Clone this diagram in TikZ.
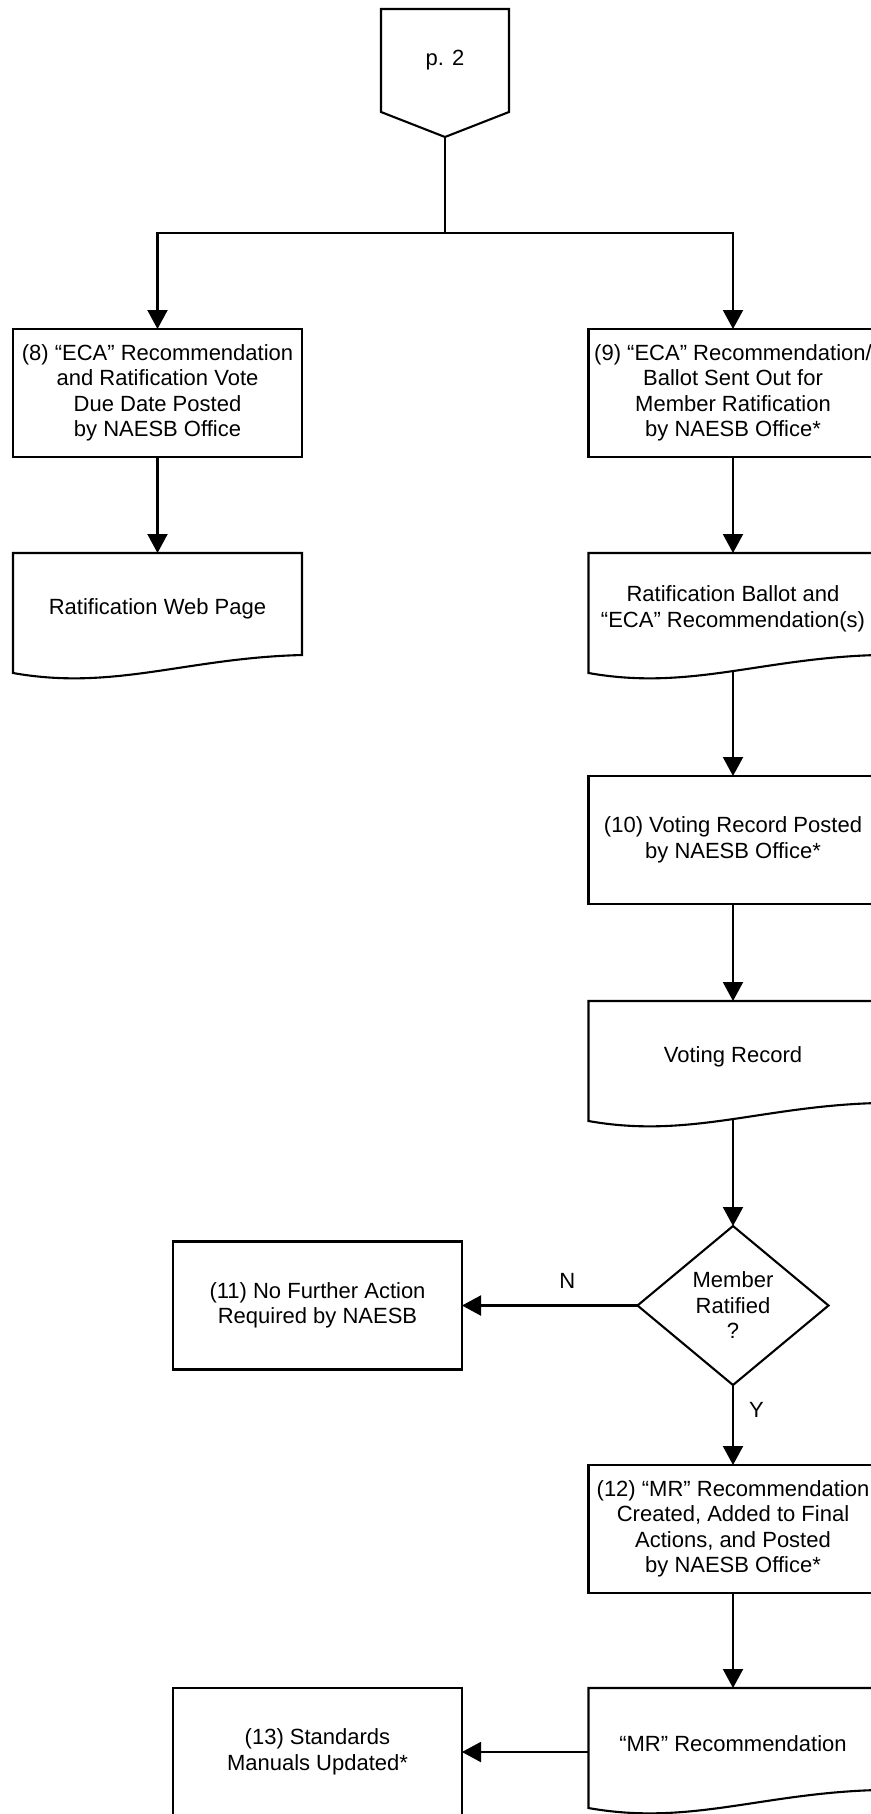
\documentclass[tikz,border=0pt]{standalone}
\usepackage{fontspec}
\setmainfont{Liberation Sans}
\usepackage{tikz}
\usetikzlibrary{shapes.geometric}
\usetikzlibrary{arrows.meta}
\usetikzlibrary{positioning}
\newcommand{\pageframe}[1]{\draw (#1.north west) -- (#1.north east) -- (#1.south east) -- ([yshift=-25pt]#1.south) -- (#1.south west) -- cycle;}
\newcommand{\docframe}[1]{\draw (#1.north west) -- ([yshift=-8pt]#1.south west) .. controls ([xshift=101pt,yshift=-26pt]#1.south west) and ([xshift=173pt,yshift=7pt]#1.south west) .. ([yshift=10pt]#1.south east) -- (#1.north east) -- cycle;}

\begin{document}
\begin{tikzpicture}[>={Triangle[length=19pt,width=20pt]}, line width=2.1pt,
  font=\fontsize{22}{25.5}\selectfont,
  stepbox/.style={rectangle, draw, minimum width=289pt, minimum height=128pt, align=center, inner sep=2pt, outer sep=0pt},
  docbox/.style={rectangle, minimum width=289pt, minimum height=112pt, align=center, inner sep=2pt, outer sep=0pt},
  decision/.style={diamond, draw, minimum width=191pt, minimum height=159pt, aspect=1.2, align=center, inner sep=1pt, outer sep=0pt},
  flag/.style={inner sep=2pt}]
  \useasboundingbox (0,0) rectangle (870pt,-1814pt);
  \node (p2) [rectangle, minimum width=128pt, minimum height=103pt, outer sep=0pt] at (445pt,-60.5pt) {p. 2};
  \node (e8) [stepbox] at (157.5pt,-393pt) {(8) “ECA” Recommendation\\and Ratification Vote\\Due Date Posted\\by NAESB Office};
  \node (e9) [stepbox, right=286.5pt of e8] {(9) “ECA” Recommendation/\\Ballot Sent Out for\\Member Ratification\\by NAESB Office*};
  \node (web) [docbox, below=96pt of e8] {Ratification Web Page};
  \node (ballot) [docbox, below=96pt of e9] {Ratification Ballot and\\“ECA” Recommendation(s)};
  \node (e10) [stepbox, below=111pt of ballot] {(10) Voting Record Posted\\by NAESB Office*};
  \node (record) [docbox, below=97pt of e10] {Voting Record};
  \node (ratified) [decision, below=113pt of record] {Member\\Ratified\\?};
  \node (e11) [stepbox, left=175.5pt of ratified] {(11) No Further Action\\Required by NAESB};
  \node (e12) [stepbox, below=80pt of ratified] {(12) “MR” Recommendation\\Created, Added to Final\\Actions, and Posted\\by NAESB Office*};
  \node (mr) [docbox, below=95pt of e12] {“MR” Recommendation};
  \node (e13) [stepbox, anchor=north east] at ([xshift=-126.5pt]mr.north west) {(13) Standards\\Manuals Updated*};
  \pageframe{p2}
  \docframe{web}
  \docframe{ballot}
  \docframe{record}
  \docframe{mr}
  \coordinate (p2tip) at ([yshift=-25pt]p2.south);
  \coordinate (fork) at ([yshift=-96pt]p2tip);
  \draw (p2tip) -- (fork);
  \draw[->] (fork) -| (e8);
  \draw[->] (fork) -| (e9);
  \draw[->] (e8) -- (web);
  \draw[->] (e9) -- (ballot);
  \draw[->] ([yshift=-7pt]ballot.south) -- (e10);
  \draw[->] (e10) -- (record);
  \draw[->] ([yshift=-7pt]record.south) -- (ratified);
  \draw[->] (ratified) -- node[flag, above=14pt, pos=0.4]{N} (e11);
  \draw[->] (ratified) -- node[flag, right=13pt, pos=0.31]{Y} (e12);
  \draw[->] (e12) -- (mr);
  \draw[->] (mr.west |- e13) -- (e13);
\end{tikzpicture}
\end{document}
